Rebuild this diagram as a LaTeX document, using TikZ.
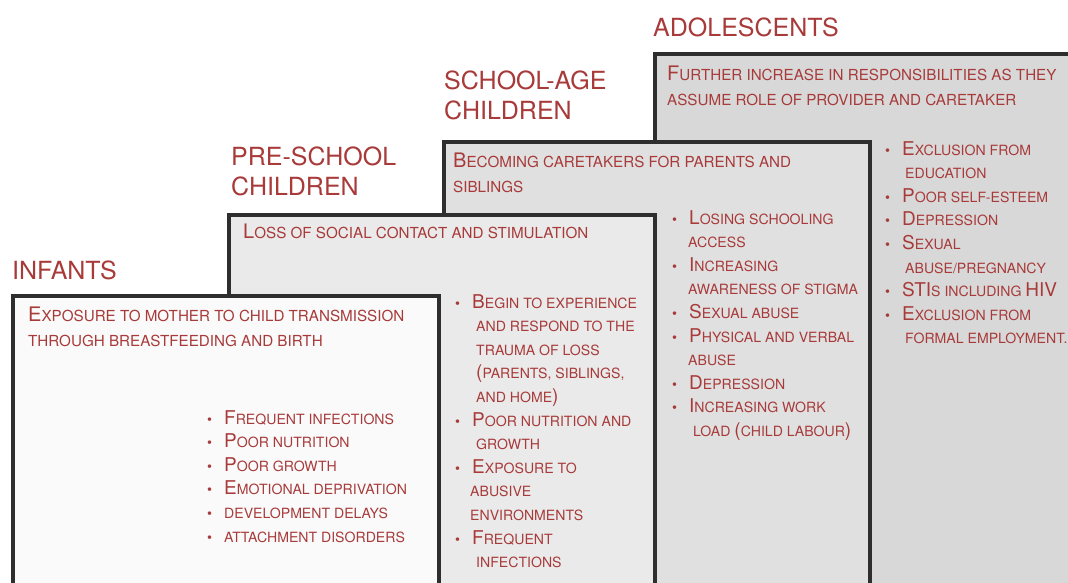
\documentclass[tikz,border=0pt]{standalone}
\usepackage{fontspec}
\setmainfont{TeX Gyre Heros}
\usepackage{tikz}

\definecolor{txtred}{HTML}{A83A3A}
\definecolor{edgegray}{HTML}{2E2E2E}
\definecolor{infantfill}{HTML}{FAFAFA}
\definecolor{prefill}{HTML}{EAEAEA}
\definecolor{schoolfill}{HTML}{E0E0E0}
\definecolor{adolfill}{HTML}{D8D8D8}

\newcommand{\fc}[1]{{\fontsize{20}{20}\selectfont #1}}
\newcommand{\fcs}[1]{{\fontsize{19}{19}\selectfont #1}}
\newcommand{\bul}{\makebox[17pt][l]{\textbullet}}
\newcommand{\ind}[1]{\hspace*{#1pt}}

\begin{document}
\begin{tikzpicture}[x=1pt,y=-1pt]
\tikzstyle{agebox} = [draw=edgegray, line width=4pt]
\tikzstyle{heading} = [anchor=base west, inner sep=0pt, align=left, text=txtred,
  font=\fontsize{25}{30}\selectfont]
\tikzstyle{lead} = [anchor=base west, inner sep=0pt, align=left, text=txtred,
  font=\fontsize{15.2}{25.6}\selectfont]
\tikzstyle{items} = [anchor=base west, inner sep=0pt, align=left, text=txtred,
  font=\fontsize{14.1}{23.6}\selectfont]

\useasboundingbox (0,0) rectangle (1068,582);
\clip (0,0) rectangle (1068,582);
\fill[white] (0,0) rectangle (1068,582);

\draw[agebox, fill=adolfill] (655,53.5) rectangle (1100,620);
\draw[agebox, fill=schoolfill] (444,142) rectangle (870,620);
\draw[agebox, fill=prefill] (229,215) rectangle (655,620);
\draw[agebox, fill=infantfill] (13,296) rectangle (439,620);

% multi-line nodes sit on the baseline of their last line
\node[heading] (infants) at (12,279) {INFANTS};
\node[heading] (preschool) at (231,195) {PRE-SCHOOL\\CHILDREN};
\node[heading] (schoolage) at (444,119) {SCHOOL-AGE\\CHILDREN};
\node[heading] (adolescents) at (653,36) {ADOLESCENTS};

\node[lead] (infantlead) at (28,346.6)
  {\fc{E}XPOSURE TO MOTHER TO CHILD TRANSMISSION\\THROUGH BREASTFEEDING AND BIRTH};
\node[lead] (prelead) at (243,238) {\fc{L}OSS OF SOCIAL CONTACT AND STIMULATION};
\node[lead] (schoollead) at (453,192.6)
  {\fc{B}ECOMING CARETAKERS FOR PARENTS AND\\SIBLINGS};
\node[lead] (adollead) at (667,105.6)
  {\fc{F}URTHER INCREASE IN RESPONSIBILITIES AS THEY\\ASSUME ROLE OF PROVIDER AND CARETAKER};

\node[items] (infantitems) at (207,542) {%
  \bul\fcs{F}REQUENT INFECTIONS\\
  \bul\fcs{P}OOR NUTRITION\\
  \bul\fcs{P}OOR GROWTH\\
  \bul\fcs{E}MOTIONAL DEPRIVATION\\
  \bul DEVELOPMENT DELAYS\\
  \bul ATTACHMENT DISORDERS};

\node[items] (preitems) at (455,567.6) {%
  \bul\fcs{B}EGIN TO EXPERIENCE\\
  \ind{21}AND RESPOND TO THE\\
  \ind{21}TRAUMA OF LOSS\\
  \ind{21}\fcs{(}PARENTS, SIBLINGS,\\
  \ind{21}AND HOME\fcs{)}\\
  \bul\fcs{P}OOR NUTRITION AND\\
  \ind{21}GROWTH\\
  \bul\fcs{E}XPOSURE TO\\
  \ind{15}ABUSIVE\\
  \ind{15}ENVIRONMENTS\\
  \bul\fcs{F}REQUENT\\
  \ind{21}INFECTIONS};

\node[items] (schoolitems) at (672,436.4) {%
  \bul\fcs{L}OSING SCHOOLING\\
  \ind{16}ACCESS\\
  \bul\fcs{I}NCREASING\\
  \ind{16}AWARENESS OF STIGMA\\
  \bul\fcs{S}EXUAL ABUSE\\
  \bul\fcs{P}HYSICAL AND VERBAL\\
  \ind{16}ABUSE\\
  \bul\fcs{D}EPRESSION\\
  \bul\fcs{I}NCREASING WORK\\
  \ind{21}LOAD \fcs{(}CHILD LABOUR\fcs{)}};

\node[items] (adolitems) at (885,343.8) {%
  \bul\fcs{E}XCLUSION FROM\\
  \ind{20}EDUCATION\\
  \bul\fcs{P}OOR SELF-ESTEEM\\
  \bul\fcs{D}EPRESSION\\
  \bul\fcs{S}EXUAL\\
  \ind{20}ABUSE/PREGNANCY\\
  \bul\fcs{STI}S INCLUDING \fcs{HIV}\\
  \bul\fcs{E}XCLUSION FROM\\
  \ind{20}FORMAL EMPLOYMENT.};
\end{tikzpicture}
\end{document}
